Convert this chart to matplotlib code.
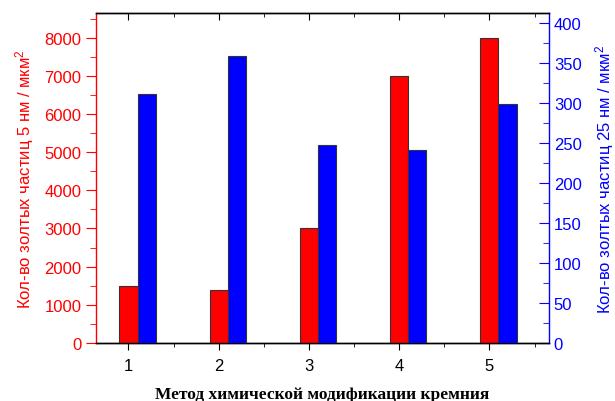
import matplotlib
matplotlib.use("Agg")
import matplotlib.pyplot as plt
import numpy as np
from matplotlib.ticker import MultipleLocator

plt.rcParams['font.family'] = ['Liberation Sans', 'DejaVu Sans']
plt.rcParams['mathtext.fontset'] = 'custom'
plt.rcParams['mathtext.rm'] = 'Liberation Sans'
plt.rcParams['mathtext.it'] = 'Liberation Sans'

methods = [1, 2, 3, 4, 5]
small = [1500, 1400, 3000, 7000, 8000]
large = [311, 359, 248, 241, 299]
xlabel = 'Метод химической модификации кремния'
ylabel_left = 'Кол-во золтых частиц 5 нм / мкм$^2$'
ylabel_right = 'Кол-во золтых частиц 25 нм / мкм$^2$'

fig = plt.figure(figsize=(6.15, 4.02), dpi=100)
ax = fig.add_axes([96/615, 1-344/402, (549-96)/615, (344-14)/402])
ax2 = ax.twinx()

x = np.array(methods, dtype=float)
w = 0.2
ax.bar(x, small, width=w, color='#ff0000', edgecolor='#333333', linewidth=0.8, zorder=3)
ax2.bar(x + w, large, width=w, color='#0000ff', edgecolor='#333333', linewidth=0.8, zorder=3)

ax.set_xlim(0.64, 5.66)
ax.set_ylim(0, 8645)
ax2.set_ylim(0, 412.5)

ax.set_xticks(methods)
ax.xaxis.set_minor_locator(MultipleLocator(0.5))
ax.yaxis.set_major_locator(MultipleLocator(1000))
ax.yaxis.set_minor_locator(MultipleLocator(500))
ax2.yaxis.set_major_locator(MultipleLocator(50))
ax2.yaxis.set_minor_locator(MultipleLocator(25))

red = '#ff0000'
blue = '#0000ff'
ax.spines['left'].set_color(red)
ax2.spines['left'].set_visible(False)
ax2.spines['right'].set_color(blue)
ax.spines['right'].set_visible(False)
for s in ['left', 'right', 'top', 'bottom']:
    ax.spines[s].set_linewidth(1.0)
    ax2.spines[s].set_linewidth(1.0)

ax.tick_params(axis='y', which='both', direction='out', colors=red, labelsize=12, labelcolor=red)
ax.tick_params(axis='y', which='major', length=7)
ax.tick_params(axis='y', which='minor', length=4)
ax.tick_params(axis='x', which='both', direction='out', top=False, labelsize=12, colors='black', pad=6)
ax.tick_params(axis='x', which='major', length=5)
ax.tick_params(axis='x', which='minor', length=3)

ax_top = ax.secondary_xaxis('top')
ax_top.set_xticks(methods)
ax_top.xaxis.set_minor_locator(MultipleLocator(0.5))
ax_top.tick_params(axis='x', which='both', direction='in', labeltop=False)
ax_top.tick_params(axis='x', which='major', length=5)
ax_top.tick_params(axis='x', which='minor', length=3)
ax_top.spines['top'].set_visible(False)

ax2.tick_params(axis='y', which='both', direction='in', colors=blue, labelsize=12, labelcolor=blue)
ax2.tick_params(axis='y', which='major', length=7)
ax2.tick_params(axis='y', which='minor', length=4)

ax.set_ylabel(ylabel_left, color=red, fontsize=12, labelpad=6)
ax2.set_ylabel(ylabel_right, color=blue, fontsize=12, labelpad=8)
ax.set_xlabel(xlabel, fontsize=12.5, fontweight='bold', family=['Liberation Serif', 'DejaVu Serif'], labelpad=9)

fig.savefig('out.png', dpi=100)
